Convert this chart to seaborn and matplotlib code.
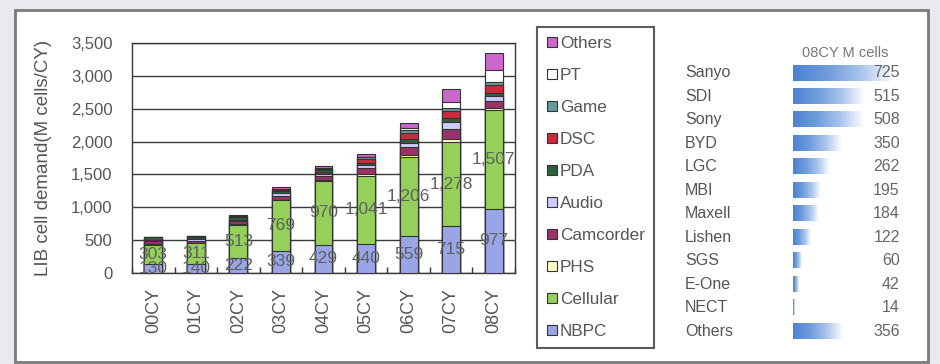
import numpy as np
import matplotlib
matplotlib.use("Agg")
import matplotlib.pyplot as plt
import seaborn as sns
from matplotlib.patches import Rectangle
from matplotlib.lines import Line2D
from matplotlib.ticker import FuncFormatter, MultipleLocator
from matplotlib.colors import LinearSegmentedColormap
from matplotlib.transforms import blended_transform_factory

# ---- LIB cell demand by application (M cells / CY) ----
years = ["00CY", "01CY", "02CY", "03CY", "04CY", "05CY", "06CY", "07CY", "08CY"]
nbpc = [130, 140, 222, 339, 429, 440, 559, 715, 977]
cellular = [303, 311, 513, 769, 970, 1041, 1206, 1278, 1507]
phs = [10, 5, 10, 10, 10, 20, 30, 40, 20]
camcorder = [40, 35, 40, 60, 65, 90, 120, 160, 110]
audio = [20, 20, 25, 35, 35, 50, 70, 100, 80]
pda = [40, 35, 35, 30, 30, 40, 60, 60, 50]
dsc = [5, 10, 20, 25, 30, 50, 80, 110, 110]
game = [0, 0, 5, 15, 20, 30, 50, 50, 50]
pt = [0, 0, 0, 0, 5, 10, 30, 90, 190]
others = [5, 5, 10, 30, 30, 40, 80, 200, 250]

# ---- 08CY production by maker (M cells) ----
makers = ["Sanyo", "SDI", "Sony", "BYD", "LGC", "MBI", "Maxell", "Lishen",
          "SGS", "E-One", "NECT", "Others"]
cells_08 = [725, 515, 508, 350, 262, 195, 184, 122, 60, 42, 14, 356]

# stacking order, bottom to top
segments = ["NBPC", "Cellular", "PHS", "Camcorder", "Audio", "PDA", "DSC",
            "Game", "PT", "Others"]
seg_values = [nbpc, cellular, phs, camcorder, audio, pda, dsc, game, pt, others]
seg_colors = ["#9aa5e8", "#94d05a", "#ffffcc", "#993366", "#ccccff",
              "#2f5f3f", "#cc2a3c", "#669999", "#ffffff", "#cc66cc"]

sns.set_theme(style="white")
plt.rcParams["font.family"] = ["Liberation Sans", "DejaVu Sans"]

W, H = 940, 364
fig = plt.figure(figsize=(W / 100, H / 100), dpi=100)
fig.patch.set_facecolor("#ebe8ee")
fig.add_artist(Rectangle((15 / W, 2 / H), (928 - 15) / W, (362 - 10) / H,
                         transform=fig.transFigure, facecolor="white",
                         edgecolor="#7a7a7a", lw=2, zorder=0))

text_gray = "#555555"

# ---------------- stacked demand chart ----------------
ax = fig.add_axes([132 / W, (H - 273) / H, 383 / W, 230 / H])
ax.set_facecolor("white")
cum = np.cumsum(np.array(seg_values, dtype=float), axis=0)
for i in reversed(range(len(segments))):
    sns.barplot(x=years, y=cum[i], color=seg_colors[i], saturation=1,
                width=0.42, edgecolor="#333333", linewidth=0.8,
                errorbar=None, ax=ax, zorder=3)

for j in range(len(years)):
    ax.text(j, nbpc[j] / 2, f"{nbpc[j]:,}", ha="center", va="center",
            fontsize=12.5, color="#606060", zorder=5)
    ax.text(j, nbpc[j] + cellular[j] / 2, f"{cellular[j]:,}", ha="center",
            va="center", fontsize=12.5, color="#606060", zorder=5)

ax.set_xlim(-0.5, len(years) - 0.5)
ax.set_ylim(0, 3500)
ax.yaxis.set_major_locator(MultipleLocator(500))
ax.yaxis.set_major_formatter(FuncFormatter(lambda v, p: f"{int(v):,}"))
ax.grid(axis="y", color="#3a3a3a", lw=1.0)
ax.grid(axis="x", visible=False)
ax.set_axisbelow(True)
for sp in ax.spines.values():
    sp.set_visible(True)
    sp.set_color("#3a3a3a")
    sp.set_linewidth(1.0)
ax.set_xlabel("")
ax.tick_params(axis="y", length=0, pad=14, labelsize=12, labelcolor=text_gray)
ax.tick_params(axis="x", which="major", length=0, pad=11, labelsize=13,
               labelcolor=text_gray, labelrotation=90)
ax.set_xticks(np.arange(-0.5, len(years)), minor=True)
ax.tick_params(axis="x", which="minor", bottom=True, direction="in",
               length=4, width=1, color="#333333")
ax.set_ylabel("LIB cell demand(M cells/CY)", fontsize=13.5, color=text_gray)
ax.yaxis.set_label_coords(-0.209, 0.5)

# ---------------- legend ----------------
handles = [Line2D([], [], marker="s", linestyle="", markersize=7,
                  markerfacecolor=c, markeredgecolor="#333333",
                  markeredgewidth=0.8) for c in seg_colors[::-1]]
leg = fig.legend(handles, segments[::-1], loc="upper left",
                 bbox_to_anchor=(537 / W, 1 - 27 / H), frameon=True,
                 fancybox=False, fontsize=12.3, labelspacing=0.99,
                 handlelength=0.6, handletextpad=0.2, borderpad=0.55,
                 borderaxespad=0)
leg.get_frame().set_edgecolor("#333333")
leg.get_frame().set_linewidth(1.5)
for t in leg.get_texts():
    t.set_color(text_gray)

# ---------------- maker ranking with gradient data bars ----------------
ax2 = fig.add_axes([793 / W, (H - 350) / H, 109 / W, 310 / H])
sns.barplot(x=cells_08, y=makers, orient="h", width=0.64, color="#4f86d4",
            saturation=1, errorbar=None, ax=ax2)
grad_cmap = LinearSegmentedColormap.from_list(
    "fade", ["#4a82d2", "#6f9bdc", "#a9c4ec", "#ffffff"])
grad = np.linspace(0, 1, 256).reshape(1, -1)
for patch in list(ax2.patches):
    x0, y0 = patch.get_x(), patch.get_y()
    w, h = patch.get_width(), patch.get_height()
    ax2.imshow(grad, cmap=grad_cmap, extent=[x0, x0 + w, y0 + h, y0],
               aspect="auto", interpolation="bilinear", zorder=2)
    patch.set_visible(False)
ax2.set_xlim(0, 780)
ax2.set_ylim(11.79, -1.404)
ax2.axis("off")

tr = blended_transform_factory(ax2.transAxes, ax2.transData)
for i, (name, v) in enumerate(zip(makers, cells_08)):
    ax2.text(-0.99, i, name, transform=tr, ha="left", va="center",
             fontsize=11.5, color=text_gray)
    ax2.text(0.98, i, f"{v}", transform=tr, ha="right", va="center",
             fontsize=11.5, color="#666666", zorder=4)
ax2.text((845 - 793) / 109, -0.85, "08CY M cells", transform=tr, ha="center",
         va="center", fontsize=10.5, color="#777777")

fig.savefig("out.png", dpi=100)
